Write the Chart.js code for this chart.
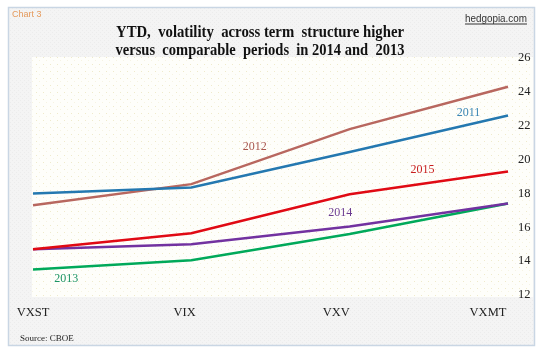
<!DOCTYPE html>
<html><head><meta charset="utf-8">
<script src="https://cdn.jsdelivr.net/npm/chart.js@4"></script>
<style>html,body{margin:0;padding:0;background:#fff}#wrap{width:543px;height:354px}</style>
</head><body><div id="wrap"><canvas id="c" width="543" height="354"></canvas></div>
<script>
// ---- data ----
const categories = ['VXST', 'VIX', 'VXV', 'VXMT'];
const y2011 = [18.0, 18.35, 20.45, 22.6];
const y2012 = [17.3, 18.55, 21.8, 24.3];
const y2015 = [14.7, 15.65, 17.95, 19.3];
const y2014 = [14.7, 15.0, 16.05, 17.4];
const y2013 = [13.5, 14.05, 15.6, 17.4];
const yTicks = [12, 14, 16, 18, 20, 22, 24, 26];
const seriesNames = ['2011', '2012', '2015', '2014', '2013'];
// label anchors in data space (category index, value)
const labelIdx = [2.75, 1.40, 2.46, 1.94, 0.21];
const labelVal = [22.78, 20.76, 19.39, 16.84, 12.97];
const titleLines = ['YTD,  volatility  across term  structure higher', 'versus  comparable  periods  in 2014 and  2013'];

// ---- styles ----
const lineColors = ['#2478b0', '#b8675f', '#e00a14', '#7232a0', '#00a95a'];
const labelColors = ['#3a86b4', '#a8564d', '#c81e1e', '#6b3b90', '#1b9463'];
const seriesData = [y2011, y2012, y2015, y2014, y2013];

function makePattern(w, h, draw) {
  const p = document.createElement('canvas'); p.width = w; p.height = h;
  const g = p.getContext('2d'); draw(g); return p;
}

const decor = {
  id: 'decor',
  beforeDraw(chart) {
    const ctx = chart.ctx;
    ctx.save();
    ctx.fillStyle = '#ffffff'; ctx.fillRect(0, 0, 543, 354);
    // outer box
    const grayPat = ctx.createPattern(makePattern(4, 4, g => {
      g.fillStyle = '#f4f4f4'; g.fillRect(0, 0, 4, 4);
      g.fillStyle = '#ececec'; g.fillRect(0, 0, 1, 1); g.fillRect(2, 2, 1, 1);
    }), 'repeat');
    ctx.fillStyle = grayPat; ctx.fillRect(9, 8, 525, 337);
    ctx.strokeStyle = '#c9d6e4'; ctx.lineWidth = 1.5;
    ctx.strokeRect(8.5, 7.5, 526, 338);
    // plot panel
    const creamPat = ctx.createPattern(makePattern(7, 7, g => {
      g.fillStyle = '#fefefa'; g.fillRect(0, 0, 7, 7);
      g.fillStyle = '#efeacb'; g.fillRect(1, 1, 1, 1);
      g.fillStyle = '#f6f3e2'; g.fillRect(4, 4, 1, 1);
    }), 'repeat');
    ctx.fillStyle = creamPat; ctx.fillRect(32, 57, 501, 240);
    ctx.restore();
  },
  afterDraw(chart) {
    const ctx = chart.ctx;
    const xs = chart.scales.x, ys = chart.scales.y;
    ctx.save();
    // title
    ctx.fillStyle = '#111';
    ctx.font = 'bold 17px "Liberation Serif", serif';
    ctx.textAlign = 'center'; ctx.textBaseline = 'alphabetic';
    ctx.fillText(titleLines[0], 260, 37, 288);
    ctx.fillText(titleLines[1], 260, 55, 289);
    // chart no.
    ctx.textAlign = 'left';
    ctx.fillStyle = '#e59a5c';
    ctx.font = '9px "Liberation Sans", sans-serif';
    ctx.fillText('Chart 3', 12, 17);
    // site
    ctx.fillStyle = '#333';
    ctx.font = '10px "Liberation Sans", sans-serif';
    ctx.textAlign = 'right';
    ctx.fillText('hedgopia.com', 527, 22, 62);
    ctx.fillRect(465, 23.5, 62, 1);
    // source
    ctx.textAlign = 'left';
    ctx.fillStyle = '#222';
    ctx.font = '9px "Liberation Serif", serif';
    ctx.fillText('Source: CBOE', 20, 341);
    // series labels
    ctx.font = '12px "Liberation Serif", serif';
    ctx.textAlign = 'center'; ctx.textBaseline = 'middle';
    seriesNames.forEach((n, i) => {
      ctx.fillStyle = labelColors[i];
      ctx.fillText(n, xs.getPixelForValue(labelIdx[i]), ys.getPixelForValue(labelVal[i]), 24);
    });
    ctx.restore();
  }
};

new Chart(document.getElementById('c'), {
  type: 'line',
  data: {
    labels: categories,
    datasets: seriesNames.map((n, i) => ({
      label: n, data: seriesData[i], borderColor: lineColors[i], backgroundColor: lineColors[i],
      borderWidth: 2.5, pointRadius: 0, tension: 0, fill: false, xAxisID: 'x', yAxisID: 'y'
    }))
  },
  options: {
    responsive: false, animation: false, devicePixelRatio: 1,
    layout: { padding: { left: 33, top: 58, right: 0, bottom: 0 } },
    plugins: { legend: { display: false }, tooltip: { enabled: false }, title: { display: false } },
    scales: {
      x: { type: 'category', display: false, offset: false },
      xl: {
        type: 'linear', position: 'bottom', min: 0, max: 3.132,
        grid: { display: false, drawTicks: false }, border: { display: false },
        afterBuildTicks: s => { s.ticks = categories.map((c, i) => ({ value: i })); },
        afterFit: s => { s.height = 59; },
        ticks: {
          autoSkip: false, maxRotation: 0, padding: 10, color: '#222',
          font: { family: '"Liberation Serif", serif', size: 12.5 },
          callback: v => categories[v]
        }
      },
      y: {
        type: 'linear', position: 'right', min: 12, max: 26,
        grid: { display: false, drawTicks: false }, border: { display: false },
        afterBuildTicks: s => { s.ticks = yTicks.map(v => ({ value: v })); },
        afterFit: s => { s.width = 35; },
        ticks: {
          padding: 10, color: '#222', crossAlign: 'near',
          font: { family: '"Liberation Serif", serif', size: 12.5 }
        }
      }
    }
  },
  plugins: [decor]
});
</script>
</body></html>
